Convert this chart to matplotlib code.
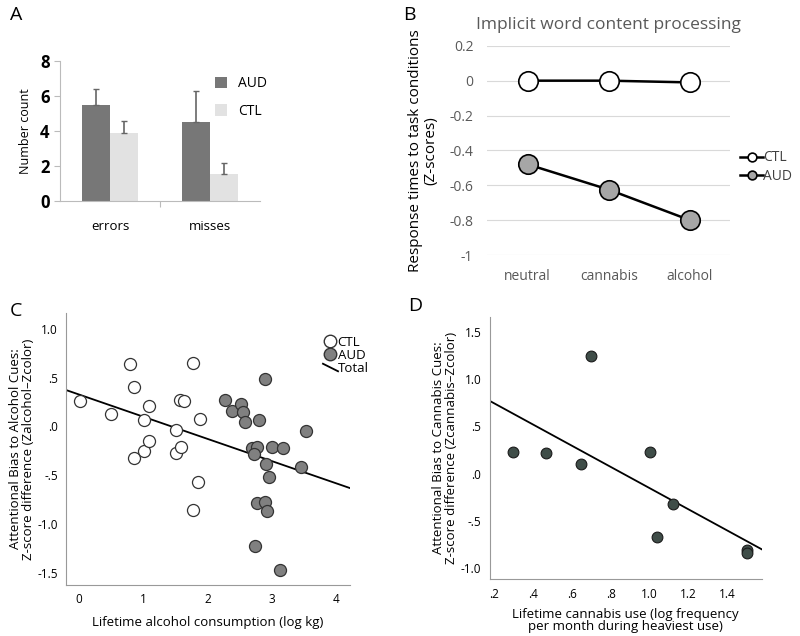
import matplotlib
matplotlib.use("Agg")
import matplotlib.pyplot as plt
import numpy as np
from matplotlib.lines import Line2D

plt.rcParams["font.family"] = ["Open Sans", "DejaVu Sans"]

# ── Panel A data ──
a_cats = ["errors", "misses"]
a_aud = [5.47, 4.53]
a_aud_err = [0.93, 1.77]
a_ctl = [3.9, 1.52]
a_ctl_err = [0.67, 0.67]

# ── Panel B data ──
b_cats = ["neutral", "cannabis", "alcohol"]
b_ctl = [0.0, 0.0, -0.01]
b_aud = [-0.48, -0.625, -0.80]

# ── Panel C data ──
c_ctl_x = [0.02, 0.50, 0.80, 0.86, 0.86, 1.01, 1.02, 1.10, 1.10, 1.52, 1.52,
           1.57, 1.63, 1.59, 1.77, 1.88, 1.85, 1.77]
c_ctl_y = [0.26, 0.13, 0.64, 0.40, -0.32, 0.07, -0.25, 0.21, -0.15, -0.04,
           -0.27, 0.27, 0.26, -0.21, 0.65, 0.08, -0.57, -0.85]
c_aud_x = [2.27, 2.39, 2.52, 2.55, 2.59, 2.81, 2.90, 2.69, 2.77, 2.73, 2.91,
           2.96, 3.00, 3.18, 3.54, 3.45, 2.77, 2.90, 2.92, 2.74, 3.13]
c_aud_y = [0.27, 0.16, 0.23, 0.15, 0.05, 0.07, 0.48, -0.22, -0.21, -0.28,
           -0.38, -0.52, -0.21, -0.22, -0.05, -0.41, -0.78, -0.77, -0.86,
           -1.22, -1.47]
c_fit = (0.328, -0.227)  # intercept, slope

# ── Panel D data ──
d_x = [0.30, 0.47, 0.65, 0.70, 1.00, 1.12, 1.04, 1.50, 1.50]
d_y = [0.23, 0.215, 0.10, 1.25, 0.23, -0.32, -0.665, -0.81, -0.835]
d_fit = (0.971, -1.122)

fig = plt.figure(figsize=(8, 6.36), dpi=100)

# ── A: bar chart ──
ax = fig.add_axes([0.075, 0.684, 0.25, 0.220])
x = np.arange(len(a_cats))
w = 0.28
ax.bar(x - w / 2, a_aud, w, color="#777777", label="AUD")
ax.bar(x + w / 2, a_ctl, w, color="#e2e2e2", label="CTL")
ax.errorbar(x - w / 2, a_aud, yerr=[np.zeros(2), a_aud_err], fmt="none",
            ecolor="#666666", elinewidth=1.2, capsize=2)
ax.errorbar(x + w / 2, a_ctl, yerr=[np.zeros(2), a_ctl_err], fmt="none",
            ecolor="#666666", elinewidth=1.2, capsize=2)
ax.set_xlim(-0.5, 1.5)
ax.set_ylim(0, 8)
ax.set_yticks([0, 2, 4, 6, 8])
ax.set_xticks([0.5], minor=False)
ax.set_xticks(x, a_cats, minor=True)
ax.tick_params(axis="x", which="major", labelbottom=False, length=4,
               color="#bbbbbb", direction="out")
ax.tick_params(axis="x", which="minor", length=0, labelsize=9.5, pad=14)
ax.tick_params(axis="y", length=4, color="#bbbbbb", labelsize=12)
for lab in ax.get_yticklabels():
    lab.set_fontweight("bold")
ax.set_ylabel("Number count", fontsize=9, labelpad=6)
for s in ["top", "right"]:
    ax.spines[s].set_visible(False)
for s in ["left", "bottom"]:
    ax.spines[s].set_color("#bbbbbb")
ax.legend(loc="upper right", bbox_to_anchor=(1.1, 0.98), frameon=False,
          fontsize=10, handlelength=0.9, handleheight=0.9, labelspacing=0.9)

# ── B: line chart ──
ax = fig.add_axes([0.609, 0.599, 0.304, 0.329])
xb = np.arange(len(b_cats))
ax.plot(xb, b_ctl, "-o", color="black", lw=1.8, ms=14, mfc="white",
        mec="black", mew=1.2, label="CTL", zorder=3)
ax.plot(xb, b_aud, "-o", color="black", lw=1.8, ms=14, mfc="#a6a6a6",
        mec="black", mew=1.2, label="AUD", zorder=3)
ax.set_xlim(-0.5, 2.5)
ax.set_ylim(-1.0, 0.2)
yt = [0.2, 0, -0.2, -0.4, -0.6, -0.8, -1]
ax.set_yticks(yt, ["0.2", "0", "-0.2", "-0.4", "-0.6", "-0.8", "-1"])
ax.set_xticks(xb, b_cats)
ax.grid(axis="y", color="#d9d9d9", lw=0.8)
ax.set_axisbelow(True)
for s in ax.spines.values():
    s.set_visible(False)
ax.tick_params(length=0, labelsize=10, labelcolor="#595959", pad=10)
ax.set_title("Implicit word content processing", fontsize=12.5,
             color="#595959", pad=12)
ax.set_ylabel("Response times to task conditions\n(Z-scores)", fontsize=11,
              labelpad=8, linespacing=1.0)
ax.legend(loc="center left", bbox_to_anchor=(0.99, 0.42), frameon=False,
          fontsize=10, handlelength=1.6, markerscale=0.45, labelspacing=0.25,
          handletextpad=0.05, labelcolor="#404040")

# ── C: scatter alcohol ──
ax = fig.add_axes([0.083, 0.080, 0.354, 0.428])
xl = np.array([-0.19, 4.21])
ax.plot(xl, c_fit[0] + c_fit[1] * xl, color="black", lw=1.3, zorder=2)
ax.scatter(c_ctl_x, c_ctl_y, s=75, facecolor="white", edgecolor="#333333",
           lw=0.9, zorder=3)
ax.scatter(c_aud_x, c_aud_y, s=75, facecolor="#808080", edgecolor="#333333",
           lw=0.9, zorder=3)
ax.set_xlim(-0.19, 4.21)
ax.set_ylim(-1.62, 1.16)
ax.set_xticks([0, 1, 2, 3, 4])
ax.set_yticks([1.0, 0.5, 0.0, -0.5, -1.0, -1.5],
              ["1.0", ".5", ".0", "-.5", "-1.0", "-1.5"])
ax.tick_params(length=0, labelsize=8.5, pad=6)
for s in ["top", "right"]:
    ax.spines[s].set_visible(False)
for s in ["left", "bottom"]:
    ax.spines[s].set_color("#999999")
ax.set_xlabel("Lifetime alcohol consumption (log kg)", fontsize=9.5,
              labelpad=7)
ax.set_ylabel("Attentional Bias to Alcohol Cues:\n"
              "Z-score difference (Zalcohol\u2013Zcolor)", fontsize=9.5,
              labelpad=2, linespacing=1.0)
handles = [
    Line2D([], [], ls="none", marker="o", ms=9, mfc="white", mec="#333333"),
    Line2D([], [], ls="none", marker="o", ms=9, mfc="#808080", mec="#333333"),
    Line2D([], [], ls="none", marker=[(-1, 0.5), (1, -0.5)], ms=12,
           mec="black", mew=1.3),
]
ax.legend(handles, ["CTL", "AUD", "Total"], loc="upper right",
          bbox_to_anchor=(1.1, 0.95), frameon=False, fontsize=9.5,
          handlelength=0.8, handletextpad=0.2, labelspacing=0.0,
          borderpad=0.2)

# ── D: scatter cannabis ──
ax = fig.add_axes([0.612, 0.089, 0.3405, 0.413])
xl = np.array([0.178, 1.578])
ax.plot(xl, d_fit[0] + d_fit[1] * xl, color="black", lw=1.3, zorder=2)
ax.scatter(d_x, d_y, s=60, facecolor="#3f4d48", edgecolor="#1a1a1a",
           lw=0.8, zorder=3)
ax.set_xlim(0.178, 1.578)
ax.set_ylim(-1.116, 1.66)
ax.set_xticks([0.2, 0.4, 0.6, 0.8, 1.0, 1.2, 1.4],
              [".2", ".4", ".6", ".8", "1.0", "1.2", "1.4"])
ax.set_yticks([1.5, 1.0, 0.5, 0.0, -0.5, -1.0],
              ["1.5", "1.0", ".5", ".0", "-.5", "-1.0"])
ax.tick_params(length=0, labelsize=8.5, pad=6)
for s in ["top", "right"]:
    ax.spines[s].set_visible(False)
for s in ["left", "bottom"]:
    ax.spines[s].set_color("#999999")
ax.set_xlabel("Lifetime cannabis use (log frequency\n"
              "per month during heaviest use)", fontsize=9.5, labelpad=5,
              linespacing=0.95)
ax.set_ylabel("Attentional Bias to Cannabis Cues:\n"
              "Z-score difference (Zcannabis\u2013Zcolor)", fontsize=9.5,
              labelpad=2, linespacing=1.0)

# panel letters
for lbl, px, py in [("A", 10, 6), ("B", 403, 6), ("C", 10, 302),
                    ("D", 408, 297)]:
    fig.text(px / 800, 1 - py / 636, lbl, fontsize=14, va="top", ha="left")

fig.savefig("out.png", dpi=100)
